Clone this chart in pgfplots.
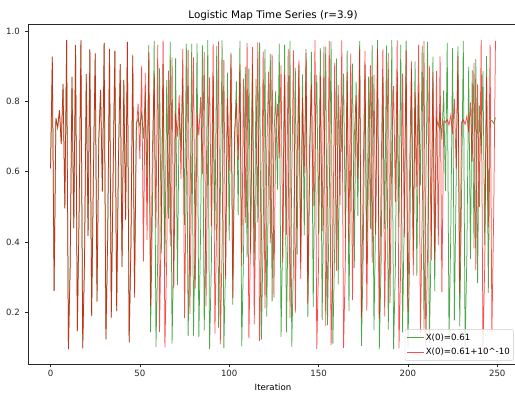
\documentclass[border=0pt]{standalone}
\usepackage{pgfplots}
\usepackage{pgfplotstable}
\pgfplotsset{compat=1.18}
\usepackage{fontspec}
\setmainfont{DejaVu Sans}
\definecolor{mplgreen}{RGB}{0,128,0}
\definecolor{mplred}{RGB}{255,0,0}
\pgfplotstableread{
n g r
0 0.6100 0.6100
1 0.9278 0.9278
2 0.2612 0.2612
3 0.7526 0.7526
4 0.7261 0.7261
5 0.7756 0.7756
6 0.6787 0.6787
7 0.8505 0.8505
8 0.4959 0.4959
9 0.9749 0.9749
10 0.0953 0.0953
11 0.3363 0.3363
12 0.8705 0.8705
13 0.4398 0.4398
14 0.9609 0.9609
15 0.1467 0.1467
16 0.4881 0.4881
17 0.9745 0.9745
18 0.0971 0.0971
19 0.3420 0.3420
20 0.8779 0.8779
21 0.4180 0.4180
22 0.9488 0.9488
23 0.1894 0.1894
24 0.5987 0.5987
25 0.9370 0.9370
26 0.2302 0.2302
27 0.6912 0.6912
28 0.8325 0.8325
29 0.5438 0.5438
30 0.9675 0.9675
31 0.1227 0.1227
32 0.4199 0.4199
33 0.9500 0.9500
34 0.1851 0.1851
35 0.5882 0.5882
36 0.9447 0.9447
37 0.2036 0.2036
38 0.6323 0.6323
39 0.9068 0.9068
40 0.3297 0.3297
41 0.8619 0.8619
42 0.4642 0.4642
43 0.9700 0.9700
44 0.1135 0.1150
45 0.3924 0.3969
46 0.9298 0.9336
47 0.2545 0.2419
48 0.7400 0.7152
49 0.7505 0.7944
50 0.7304 0.6370
51 0.7680 0.9018
52 0.6948 0.3454
53 0.8270 0.8818
54 0.5581 0.4065
55 0.9618 0.9409
56 0.1432 0.2168
57 0.4785 0.6622
58 0.9732 0.8700
59 0.1017 0.4411
60 0.3563 0.9615
61 0.8945 0.1444
62 0.3680 0.4818
63 0.9070 0.9737
64 0.3290 0.0999
65 0.8610 0.3507
66 0.4668 0.8881
67 0.9707 0.3876
68 0.1109 0.9257
69 0.3845 0.2682
70 0.9230 0.7654
71 0.2772 0.7003
72 0.7814 0.8185
73 0.6662 0.5794
74 0.8673 0.9504
75 0.4489 0.1838
76 0.9648 0.5851
77 0.1324 0.9468
78 0.4480 0.1964
79 0.9645 0.6155
80 0.1335 0.9260
81 0.4511 0.2672
82 0.9657 0.7636
83 0.1292 0.7040
84 0.4388 0.8127
85 0.9604 0.5937
86 0.1483 0.9408
87 0.4926 0.2172
88 0.9748 0.6631
89 0.0958 0.8690
90 0.3378 0.4440
91 0.8724 0.9628
92 0.4342 0.1397
93 0.9581 0.4687
94 0.1566 0.9712
95 0.5151 0.1091
96 0.9741 0.3791
97 0.0984 0.9180
98 0.3460 0.2936
99 0.8825 0.8089
100 0.4044 0.6029
101 0.9394 0.9337
102 0.2220 0.2414
103 0.6736 0.7142
104 0.8575 0.7961
105 0.4766 0.6331
106 0.9729 0.9059
107 0.1028 0.3325
108 0.3597 0.8656
109 0.8982 0.4537
110 0.3566 0.9666
111 0.8948 0.1259
112 0.3671 0.4292
113 0.9061 0.9555
114 0.3318 0.1658
115 0.8647 0.5394
116 0.4563 0.9689
117 0.9676 0.1190
118 0.1223 0.4089
119 0.4186 0.9426
120 0.9492 0.2110
121 0.1881 0.6540
122 0.5990 0.8850
123 0.9368 0.3969
124 0.2309 0.9335
125 0.6926 0.2421
126 0.8303 0.7156
127 0.5495 0.7937
128 0.9654 0.6386
129 0.1303 0.9030
130 0.4420 0.3416
131 0.9619 0.8771
132 0.1429 0.4204
133 0.4777 0.9503
134 0.9731 0.1842
135 0.1021 0.5861
136 0.3575 0.9461
137 0.8958 0.1989
138 0.3640 0.6214
139 0.9029 0.9175
140 0.3419 0.2952
141 0.8775 0.8114
142 0.4192 0.5968
143 0.9495 0.9385
144 0.1870 0.2251
145 0.5929 0.6803
146 0.9413 0.8482
147 0.2155 0.5022
148 0.6593 0.9750
149 0.8760 0.0960
150 0.4236 0.3385
151 0.9522 0.8733
152 0.1775 0.4315
153 0.5694 0.9567
154 0.9562 0.1616
155 0.1633 0.5284
156 0.5329 0.9719
157 0.9708 0.1065
158 0.1106 0.3711
159 0.3836 0.9102
160 0.9222 0.3188
161 0.2798 0.8470
162 0.7859 0.5054
163 0.6562 0.9740
164 0.8799 0.0988
165 0.4121 0.3473
166 0.9449 0.8841
167 0.2031 0.3996
168 0.6312 0.9357
169 0.9079 0.2347
170 0.3261 0.7005
171 0.8571 0.8182
172 0.4740 0.5801
173 0.9724 0.9500
174 0.1047 0.1853
175 0.3656 0.5888
176 0.9046 0.9443
177 0.3366 0.2051
178 0.8709 0.6358
179 0.4385 0.9031
180 0.9602 0.3413
181 0.1491 0.8768
182 0.4948 0.4213
183 0.9749 0.9508
184 0.0955 0.1824
185 0.3369 0.5816
186 0.8713 0.9490
187 0.4373 0.1888
188 0.9597 0.5973
189 0.1509 0.9381
190 0.4997 0.2265
191 0.9750 0.6833
192 0.0951 0.8440
193 0.3356 0.5135
194 0.8696 0.9743
195 0.4422 0.0976
196 0.9620 0.3435
197 0.1426 0.8795
198 0.4800 0.4133
199 0.9734 0.9457
200 0.1010 0.2003
201 0.3541 0.6247
202 0.8920 0.9144
203 0.3757 0.3053
204 0.9147 0.8272
205 0.3043 0.5575
206 0.8256 0.9621
207 0.5615 0.1422
208 0.9590 0.4757
209 0.1533 0.9727
210 0.5350 0.1036
211 0.9702 0.3622
212 0.1128 0.9010
213 0.3903 0.3479
214 0.9281 0.8848
215 0.2603 0.3496
216 0.7509 0.8868
217 0.7295 0.3914
218 0.7696 0.9290
219 0.6915 0.2572
220 0.8320 0.7450
221 0.5451 0.7409
222 0.9671 0.7487
223 0.1241 0.7338
224 0.4239 0.7618
225 0.9524 0.7077
226 0.1768 0.8068
227 0.5676 0.6079
228 0.9572 0.9296
229 0.1598 0.2552
230 0.5236 0.7413
231 0.9728 0.7479
232 0.1032 0.7353
233 0.3610 0.7591
234 0.8996 0.7132
235 0.3522 0.7977
236 0.8898 0.6294
237 0.3824 0.9097
238 0.9211 0.3204
239 0.2834 0.8492
240 0.7884 0.4994
241 0.6506 0.9750
242 0.8866 0.0951
243 0.3920 0.3356
244 0.9295 0.8696
245 0.2556 0.4422
246 0.7420 0.9620
247 0.7466 0.1426
248 0.7378 0.4768
249 0.7545 0.9731
}\logdata
\begin{document}
\begin{tikzpicture}[x=1bp,y=1bp]
\begin{axis}[
  name=ax,
  scale only axis, width=489.4bp, height=340.3bp,
  xmin=-12.45, xmax=261.45, ymin=0.052, ymax=1.021,
  xtick={0,50,100,150,200,250},
  ytick={0.2,0.4,0.6,0.8,1.0},
  yticklabel style={/pgf/number format/fixed, /pgf/number format/fixed zerofill, /pgf/number format/precision=1, xshift=-2bp},
  xticklabel style={yshift=1bp},
  /pgf/number format/assume math mode=true,
  tick align=outside, tick pos=left,
  major tick length=3bp,
  every tick/.style={black!85, line width=0.7bp},
  axis line style={black!85, line width=0.7bp},
  ticklabel style={font=\fontsize{8.65}{10}\selectfont, text=black!85},
  title={Logistic Map Time Series (r=3.9)},
  title style={font=\fontsize{10.4}{12}\selectfont, at={(axis description cs:0.5,1)}, anchor=base, yshift=0bp},
  xlabel={Iteration},
  xlabel style={font=\fontsize{8.65}{10}\selectfont, at={(axis description cs:0.5,0)}, anchor=base, yshift=-26.2bp},
  legend style={at={(axis description cs:1,0)}, anchor=south east, xshift=-4.2bp, yshift=3.5bp,
    draw=black!20, rounded corners=2bp, fill=white, fill opacity=0.8, text opacity=1,
    font=\fontsize{8.65}{10}\selectfont, inner xsep=2bp, inner ysep=3bp,
    nodes={inner sep=1.5bp}, row sep=3.2bp},
  legend cell align=left,
  legend image code/.code={\draw[#1] (0bp,0bp) -- (16.6bp,0bp);},
]
\addplot[mplgreen, draw opacity=0.7, line width=0.75bp] table[x=n, y=g] {\logdata};
\addlegendentry{{X(0)=0.61}}
\addplot[mplred, draw opacity=0.7, line width=0.75bp] table[x=n, y=r] {\logdata};
\addlegendentry{{X(0)=0.61+10\textasciicircum-10}}
\end{axis}
\pgfresetboundingbox
\useasboundingbox (ax.south west) ++(-28.3,-28.7) rectangle ++(515,393);
\end{tikzpicture}
\end{document}
